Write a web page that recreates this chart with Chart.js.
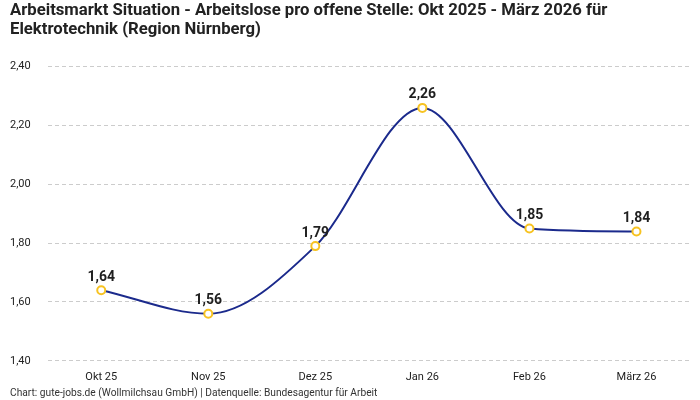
<!DOCTYPE html>
<html>
<head>
<meta charset="utf-8">
<script src="https://cdn.jsdelivr.net/npm/chart.js@4"></script>
<style>
  html, body { margin: 0; padding: 0; background: #fff; }
  #wrap { width: 700px; height: 400px; }
</style>
</head>
<body>
<div id="wrap"><canvas id="chart"></canvas></div>
<script>
const months = ['Okt 25', 'Nov 25', 'Dez 25', 'Jan 26', 'Feb 26', 'März 26'];
const ratio = [1.64, 1.56, 1.79, 2.26, 1.85, 1.84];
const yTicks = [1.4, 1.6, 1.8, 2.0, 2.2, 2.4];

const FONT = 'Roboto, "Noto Sans", sans-serif';
const fmt = v => v.toFixed(2).replace('.', ',');

// draws the value above each point
const valueLabels = {
  id: 'valueLabels',
  afterDatasetsDraw(chart) {
    const ctx = chart.ctx;
    const meta = chart.getDatasetMeta(0);
    ctx.save();
    ctx.font = 'bold 14px ' + FONT;
    ctx.fillStyle = '#1f1f1f';
    ctx.textAlign = 'center';
    ctx.textBaseline = 'bottom';
    meta.data.forEach((pt, i) => {
      ctx.fillText(fmt(ratio[i]), pt.x, pt.y - 6);
    });
    ctx.restore();
  }
};

// source line in the bottom left corner
const footer = {
  id: 'footer',
  afterDraw(chart) {
    const ctx = chart.ctx;
    ctx.save();
    ctx.font = '10.2px ' + FONT;
    ctx.fillStyle = '#333';
    ctx.textAlign = 'left';
    ctx.textBaseline = 'middle';
    ctx.fillText('Chart: gute-jobs.de (Wollmilchsau GmbH) | Datenquelle: Bundesagentur für Arbeit', 10, 393);
    ctx.restore();
  }
};

new Chart(document.getElementById('chart'), {
  type: 'line',
  data: {
    labels: months,
    datasets: [{
      data: ratio,
      borderColor: '#1b2a8c',
      borderWidth: 2,
      cubicInterpolationMode: 'monotone',
      pointRadius: 4,
      pointHoverRadius: 4,
      pointBorderWidth: 2,
      pointBackgroundColor: '#ffffff',
      pointBorderColor: '#f7c322'
    }]
  },
  options: {
    responsive: true,
    maintainAspectRatio: false,
    animation: false,
    layout: { padding: { left: 10, right: 10, top: 0, bottom: 14 } },
    plugins: {
      legend: { display: false },
      tooltip: { enabled: false },
      title: {
        display: true,
        align: 'start',
        text: ['Arbeitsmarkt Situation - Arbeitslose pro offene Stelle: Okt 2025 - März 2026 für', 'Elektrotechnik (Region Nürnberg)'],
        font: { family: FONT, size: 16.7, weight: 'bold', lineHeight: 1.1 },
        color: '#222',
        padding: { top: 2, bottom: 28 }
      }
    },
    scales: {
      x: {
        offset: true,
        grid: { display: false },
        border: { display: false },
        ticks: { color: '#222', font: { family: FONT, size: 11 }, padding: 2 }
      },
      y: {
        min: 1.4,
        max: 2.4,
        afterBuildTicks: axis => { axis.ticks = yTicks.map(v => ({ value: v })); },
        grid: { color: '#cccccc', drawTicks: false },
        border: { display: false, dash: [4, 3] },
        ticks: {
          color: '#222',
          font: { family: FONT, size: 11 },
          crossAlign: 'far',
          padding: 8.5,
          callback: v => fmt(v)
        }
      }
    }
  },
  plugins: [valueLabels, footer]
});
</script>
</body>
</html>
